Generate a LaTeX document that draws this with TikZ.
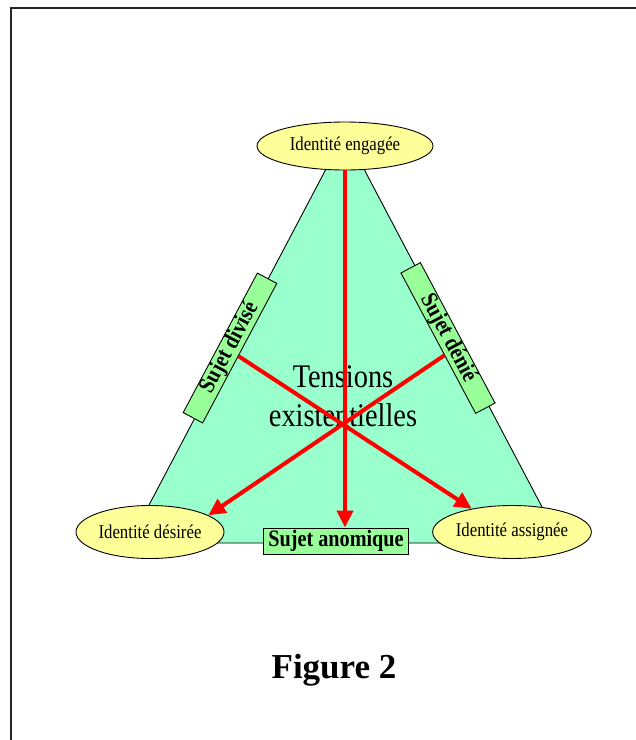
\documentclass[tikz,border=0pt]{standalone}
\usepackage{fontspec}
\setmainfont{Liberation Serif}
\newfontfamily\condserif[FakeStretch=0.86]{Liberation Serif}
\usetikzlibrary{shapes.geometric,arrows.meta,calc}
\definecolor{mint}{HTML}{99FFCC}
\definecolor{lightyel}{HTML}{FFFF99}
\definecolor{lightgrn}{HTML}{99FF99}
\definecolor{pure red}{HTML}{FF0000}
\tikzset{
  idell/.style={ellipse,draw=black,line width=0.9pt,fill=lightyel,inner sep=0pt,
    font=\condserif\fontsize{19.5}{22}\selectfont},
  sujbox/.style={rectangle,draw=black,line width=0.9pt,fill=lightgrn,inner sep=0pt,
    font=\condserif\fontsize{23.5}{26}\selectfont\bfseries},
  redarrow/.style={draw=pure red,line width=4pt,-{Triangle[length=17pt,width=16pt]}},
}
\begin{document}
\begin{tikzpicture}[x=1pt,y=-1pt]
\useasboundingbox (0,0) rectangle (636,740);
% frame
\draw[line width=2.5pt,color=black!85] (11,740) -- (11,8) -- (636,8);
% triangle
\filldraw[fill=mint,draw=black,line width=0.9pt] (345,133) -- (561,543) -- (129,543) -- cycle;
% side labels
\node[sujbox,minimum width=158pt,minimum height=22pt,rotate=62] (div) at (230,348) {Sujet divisé};
\node[sujbox,minimum width=159pt,minimum height=22pt,rotate=-62] (den) at (448,338) {Sujet dénié};
\node[sujbox,minimum width=145pt,minimum height=26pt] (ano) at (336,541) {Sujet anomique};
% ellipses
\node[idell,minimum width=176pt,minimum height=48pt] (eng) at (345,146) {Identité engagée};
\node[idell,minimum width=148pt,minimum height=53pt] (des) at (150,532) {Identité désirée};
\node[idell,minimum width=152pt,minimum height=53pt] (ass) at (512,532) {Identité assignée};
% central text
\node[align=center,inner sep=0pt,font=\condserif\fontsize{33}{39}\selectfont] (ten) at (343,396) {Tensions\\existentielles};
% arrows
\draw[redarrow] (eng.south) -- (eng.south |- ano.north);
\draw[redarrow] ($(div.south)!0.04!(div.south west)$) -- (ass.150);
\draw[redarrow] ($(den.south)!0.17!(den.south east)$) -- (des.16);
% caption
\node[anchor=base,inner sep=0pt,font=\fontsize{35}{40}\selectfont\bfseries] (cap) at (334,678) {Figure 2};
\end{tikzpicture}
\end{document}
